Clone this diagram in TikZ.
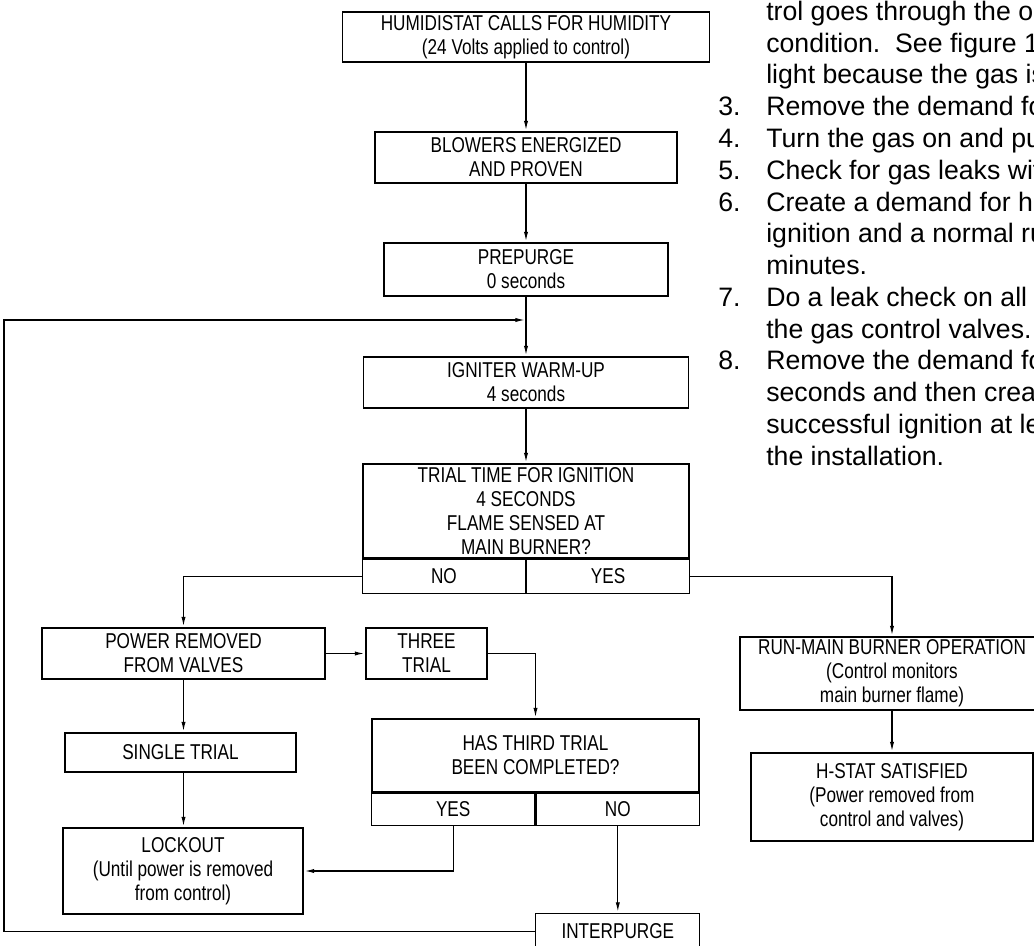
\documentclass[tikz,border=0pt]{standalone}
\usepackage{fontspec}
\setmainfont{Liberation Sans}
\newfontfamily\condfont[FakeStretch=0.8]{Liberation Sans}
\usetikzlibrary{arrows.meta}
\begin{document}
\begin{tikzpicture}[x=0.75pt,y=-0.75pt,
  box/.style={draw, line width=0.85pt, inner sep=0pt, align=center,
    font=\condfont\fontsize{16.1pt}{18pt}\selectfont},
  sz/.style 2 args={minimum width=#1*0.75pt, minimum height=#2*0.75pt},
  link/.style={line width=0.85pt},
  arr/.style={line width=0.85pt, -{Latex[length=7pt,width=3.2pt]}, shorten >=1pt},
  para/.style={anchor=base west, inner sep=0pt,
    font=\fontsize{20pt}{23.8pt}\selectfont}
]
\useasboundingbox (0,0) rectangle (1034,945);
\clip (0,0) rectangle (1034,945);

% main column
\node[box, sz={367}{50}] (b1) at (526,37) {HUMIDISTAT CALLS FOR HUMIDITY\\(24 Volts applied to control)};
\node[box, sz={302}{51}] (b2) at (526,157.5) {BLOWERS ENERGIZED\\AND PROVEN};
\node[box, sz={284}{53}] (b3) at (526,269.5) {PREPURGE\\0 seconds};
\node[box, sz={325}{51}] (b4) at (526,382.5) {IGNITER WARM-UP\\4 seconds};
\node[box, sz={326}{94}] (trial) at (526,511) {TRIAL TIME FOR IGNITION\\4 SECONDS\\FLAME SENSED AT\\MAIN BURNER?};
\node[box, sz={163}{34}, anchor=north east] (tno) at (trial.south) {NO};
\node[box, sz={163}{34}, anchor=north west] (tyes) at (trial.south) {YES};

% left branch
\node[box, sz={283}{51}] (power) at (183.5,653.5) {POWER REMOVED\\FROM VALVES};
\node[box, sz={121}{51}] (three) at (426.5,653.5) {THREE\\TRIAL};
\node[box, sz={231}{39}] (single) at (180.5,752.5) {SINGLE TRIAL};
\node[box, sz={240}{86}] (lockout) at (183,871) {LOCKOUT\\(Until power is removed\\from control)};
\node[box, sz={327}{73}] (has) at (535.5,755.5) {HAS THIRD TRIAL\\BEEN COMPLETED?};
\node[box, sz={163.5}{32}, anchor=north east] (hyes) at (has.south) {YES};
\node[box, sz={163.5}{32}, anchor=north west] (hno) at (has.south) {NO};
\node[box, sz={164}{36}, anchor=north] (ip) at (hno.south |- 0,913) {INTERPURGE};

% right branch
\node[box, sz={304}{73}] (run) at (892,673.5) {RUN-MAIN BURNER OPERATION\\(Control monitors\\main burner flame)};
\node[box, sz={282}{88}] (hstat) at (892,797) {H-STAT SATISFIED\\(Power removed from\\control and valves)};

% connectors
\draw[arr] (b1) -- (b2);
\draw[arr] (b2) -- (b3);
\draw[arr] (b3) -- (b4);
\draw[arr] (b4) -- (trial);
\draw[arr] (tno.west) -| (power.north);
\draw[arr] (tyes.east) -| (run.north);
\draw[arr] (run) -- (hstat);
\draw[arr] (power) -- (three);
\draw[arr] (power.south) -- (power.south |- single.north);
\draw[arr] (power.south |- single.south) -- (power.south |- lockout.north);
\draw[arr] (three.east) -| (has.north);
\draw[arr] (hyes.south) |- (lockout.east);
\draw[arr] (hno.south) -- (ip.north);
\coordinate (fbcorner) at (4,320);
\coordinate (fbjoin) at (526,320);
\draw[arr] (ip.west) -| (fbcorner) -- (fbjoin);

% text at right (cropped page text)
\node[para] (t1) at (766,20.5) {trol goes through the op};
\node[para] (t2) at (766,52.25) {condition.\ \ See figure 1};
\node[para] (t3) at (766,84) {light because the gas is};
\node[para] (t4) at (766,115.75) {\llap{\makebox[36pt][l]{3.}}Remove the demand fo};
\node[para] (t5) at (766,147.5) {\llap{\makebox[36pt][l]{4.}}Turn the gas on and pu};
\node[para] (t6) at (766,179.25) {\llap{\makebox[36pt][l]{5.}}Check for gas leaks wit};
\node[para] (t7) at (766,211) {\llap{\makebox[36pt][l]{6.}}Create a demand for hu};
\node[para] (t8) at (766,242.75) {ignition and a normal ru};
\node[para] (t9) at (766,274.5) {minutes.};
\node[para] (t10) at (766,306.25) {\llap{\makebox[36pt][l]{7.}}Do a leak check on all t};
\node[para] (t11) at (766,338) {the gas control valves.};
\node[para] (t12) at (766,369.75) {\llap{\makebox[36pt][l]{8.}}Remove the demand fo};
\node[para] (t13) at (766,401.5) {seconds and then crea};
\node[para] (t14) at (766,433.25) {successful ignition at le};
\node[para] (t15) at (766,465) {the installation.};
\end{tikzpicture}
\end{document}
